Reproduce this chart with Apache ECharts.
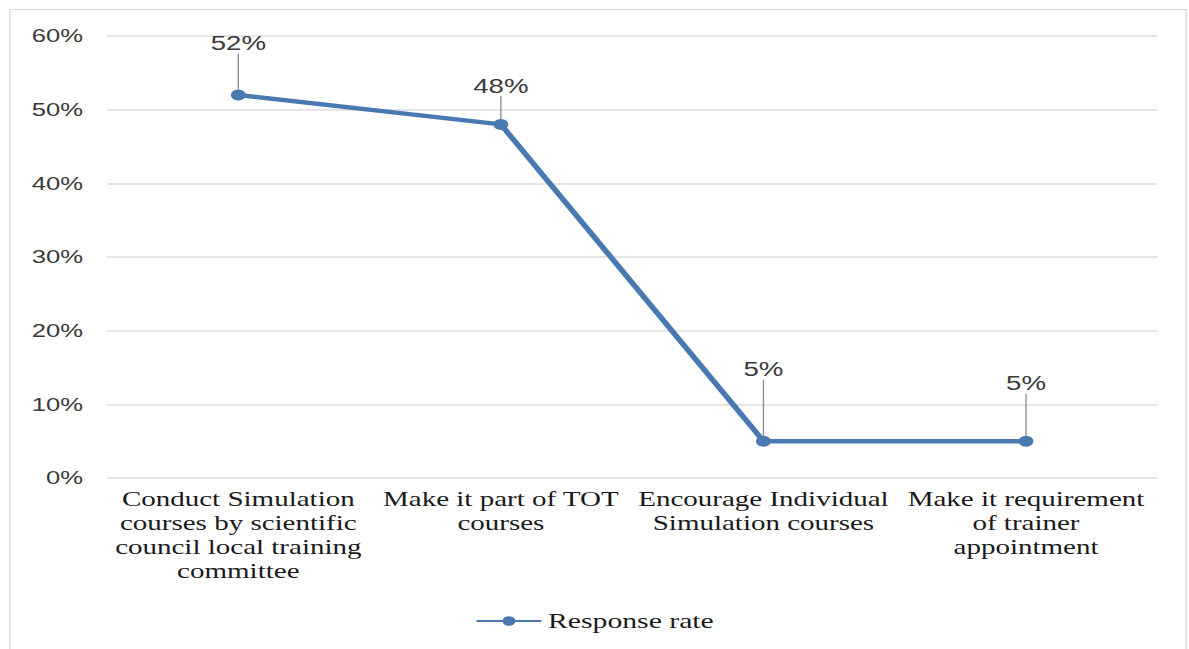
<!DOCTYPE html>
<html>
<head>
<meta charset="utf-8">
<script src="https://cdn.jsdelivr.net/npm/echarts@6/dist/echarts.min.js"></script>
<style>
  html, body { margin: 0; padding: 0; background: #fff; }
  #wrap { width: 1189px; height: 649px; overflow: hidden; position: relative; }
  /* the chart is laid out narrower and widened so the glyphs come out broad */
  #chart { width: 881px; height: 649px; transform: scaleX(1.3496); transform-origin: 0 0; }
</style>
</head>
<body>
<div id="wrap"><div id="chart"></div></div>
<script>
// Suggestions for promoting simulation courses
const categories = [
  'Conduct Simulation\ncourses by scientific\ncouncil local training\ncommittee',
  'Make it part of TOT\ncourses',
  'Encourage Individual\nSimulation courses',
  'Make it requirement\nof trainer\nappointment'
];
const seriesName = 'Response rate';
const responseRate = [52, 48, 5, 5];
const yTicks = { min: 0, max: 60, interval: 10 };

// vertical lift of each value label above its point (px)
const labelLift = [48, 35, 68, 54];

const chart = echarts.init(document.getElementById('chart'), null, { renderer: 'svg' });

const sans = '"Liberation Sans", Arial, sans-serif';
const serif = '"Liberation Serif", "Times New Roman", serif';

chart.setOption({
  backgroundColor: '#ffffff',
  animation: false,
  graphic: [{
    type: 'rect',
    silent: true,
    shape: { x: 7.4, y: 9.5, width: 871.5, height: 700 },
    style: { fill: 'none', stroke: '#d9d9d9', lineWidth: 1 }
  }],
  grid: { left: 79.3, right: 23.5, top: 36, bottom: 171, containLabel: false },
  legend: {
    data: [seriesName],
    bottom: 12,
    left: 'center',
    itemWidth: 48,
    itemHeight: 12,
    itemGap: 4,
    textStyle: { fontFamily: serif, fontSize: 22, color: '#1a1a1a' }
  },
  xAxis: {
    type: 'category',
    data: categories,
    boundaryGap: true,
    axisLine: { show: false },
    axisTick: { show: false },
    axisLabel: {
      interval: 0,
      margin: 9,
      fontFamily: serif,
      fontSize: 21.5,
      lineHeight: 24,
      color: '#1a1a1a',
      align: 'center'
    }
  },
  yAxis: {
    type: 'value',
    min: yTicks.min,
    max: yTicks.max,
    interval: yTicks.interval,
    axisLine: { show: false },
    axisTick: { show: false },
    splitLine: { lineStyle: { color: '#dcdcdc', width: 1.5 } },
    axisLabel: {
      formatter: '{value}%',
      margin: 17.8,
      fontFamily: sans,
      fontSize: 19,
      color: '#3a3a3a'
    }
  },
  series: [{
    name: seriesName,
    type: 'line',
    data: responseRate,
    symbol: 'circle',
    symbolSize: 11,
    lineStyle: { color: '#4a79b2', width: 4.5 },
    itemStyle: { color: '#4a79b2' },
    label: {
      show: true,
      position: 'top',
      distance: 4,
      formatter: '{c}%',
      fontFamily: sans,
      fontSize: 20.5,
      color: '#3a3a3a'
    },
    labelLayout: function (params) {
      return { dy: -(labelLift[params.dataIndex] - 16) };
    },
    labelLine: {
      show: true,
      lineStyle: { color: '#8c8c8c', width: 1 }
    }
  }]
});
</script>
</body>
</html>
